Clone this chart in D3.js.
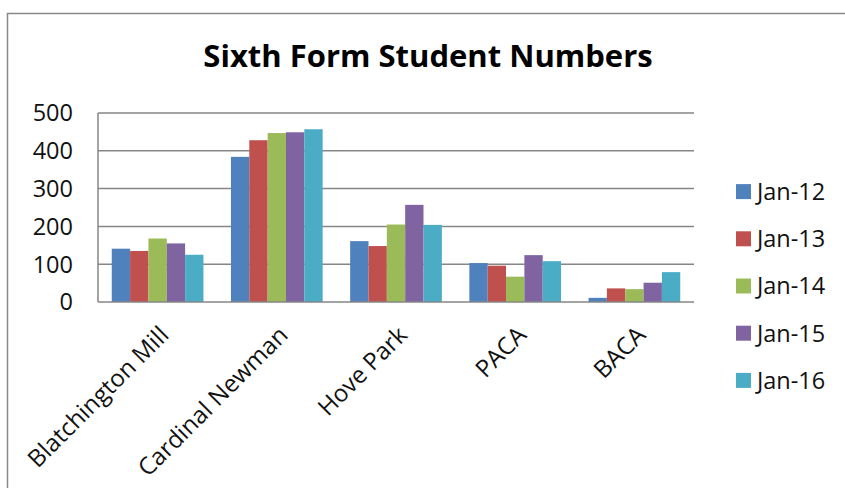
<!DOCTYPE html>
<html>
<head>
<meta charset="utf-8">
<script src="https://cdn.jsdelivr.net/npm/d3@7/dist/d3.min.js"></script>
<style>
  body { margin: 0; background: #fff; }
  svg { display: block; font-family: "Open Sans", Lato, sans-serif; }
</style>
</head>
<body>
<svg id="chart" width="845" height="488"></svg>
<script>
const schools = ["Blatchington Mill", "Cardinal Newman", "Hove Park", "PACA", "BACA"];
const years = ["Jan-12", "Jan-13", "Jan-14", "Jan-15", "Jan-16"];
const colors = ["#4F81BD", "#C0504D", "#9BBB59", "#8064A2", "#4BACC6"];
const yTicks = [0, 100, 200, 300, 400, 500];

// one array per school, in year order
const blatchington = [141, 135, 168, 155, 125];
const cardinal = [384, 428, 447, 449, 457];
const hovePark = [161, 148, 205, 257, 204];
const paca = [103, 96, 67, 124, 108];
const baca = [11, 36, 34, 51, 79];
const values = [blatchington, cardinal, hovePark, paca, baca];

const svg = d3.select("#chart");
const margin = { left: 98, top: 113, right: 694, bottom: 302 };
const labelSize = 23.5;

// outer chart frame
svg.append("rect")
  .attr("x", 7.5).attr("y", 13.5)
  .attr("width", 845).attr("height", 500)
  .attr("fill", "none")
  .attr("stroke", "#888")
  .attr("stroke-width", 1.5);

svg.append("text")
  .attr("x", 428).attr("y", 67)
  .attr("text-anchor", "middle")
  .attr("font-size", 31)
  .attr("font-weight", "bold")
  .attr("fill", "#000")
  .text("Sixth Form Student Numbers");

const x = d3.scaleBand()
  .domain(schools)
  .range([margin.left, margin.right]);

const xInner = d3.scaleBand()
  .domain(years)
  .range([0, x.bandwidth()])
  .paddingOuter(0.75);

const y = d3.scaleLinear()
  .domain([0, 500])
  .range([margin.bottom, margin.top]);

// gridlines
svg.append("g")
  .selectAll("line")
  .data(yTicks.slice(1))
  .join("line")
  .attr("x1", margin.left).attr("x2", margin.right)
  .attr("y1", d => y(d)).attr("y2", d => y(d))
  .attr("stroke", "#868686")
  .attr("stroke-width", 1.5);

// bars
svg.append("g")
  .selectAll("g")
  .data(schools)
  .join("g")
  .attr("transform", d => `translate(${x(d)},0)`)
  .selectAll("rect")
  .data((d, i) => values[i].map((v, j) => ({ year: years[j], v, c: colors[j] })))
  .join("rect")
  .attr("x", d => xInner(d.year))
  .attr("width", xInner.bandwidth())
  .attr("y", d => y(d.v))
  .attr("height", d => y(0) - y(d.v))
  .attr("fill", d => d.c);

// axes lines
svg.append("line")
  .attr("x1", margin.left).attr("x2", margin.left)
  .attr("y1", margin.top).attr("y2", margin.bottom)
  .attr("stroke", "#868686").attr("stroke-width", 1.5);
svg.append("line")
  .attr("x1", margin.left).attr("x2", margin.right)
  .attr("y1", margin.bottom).attr("y2", margin.bottom)
  .attr("stroke", "#868686").attr("stroke-width", 1.5);

// y tick labels
svg.append("g")
  .selectAll("text")
  .data(yTicks)
  .join("text")
  .attr("x", 73)
  .attr("y", d => y(d))
  .attr("dy", "0.36em")
  .attr("text-anchor", "end")
  .attr("font-size", labelSize)
  .attr("fill", "#111")
  .text(d => d);

// x labels, rotated
svg.append("g")
  .selectAll("text")
  .data(schools)
  .join("text")
  .attr("transform", d => `translate(${x(d) + x.bandwidth() / 2},324) rotate(-45)`)
  .attr("dy", "0.74em")
  .attr("text-anchor", "end")
  .attr("font-size", 24)
  .attr("fill", "#111")
  .text(d => d);

// legend
const legend = svg.append("g")
  .selectAll("g")
  .data(years)
  .join("g")
  .attr("transform", (d, i) => `translate(736,${191.6 + i * 47.2})`);
legend.append("rect")
  .attr("x", 0).attr("y", -7.5)
  .attr("width", 15).attr("height", 15)
  .attr("fill", (d, i) => colors[i]);
legend.append("text")
  .attr("x", 21)
  .attr("dy", "0.36em")
  .attr("font-size", labelSize)
  .attr("fill", "#111")
  .text(d => d);
</script>
</body>
</html>
